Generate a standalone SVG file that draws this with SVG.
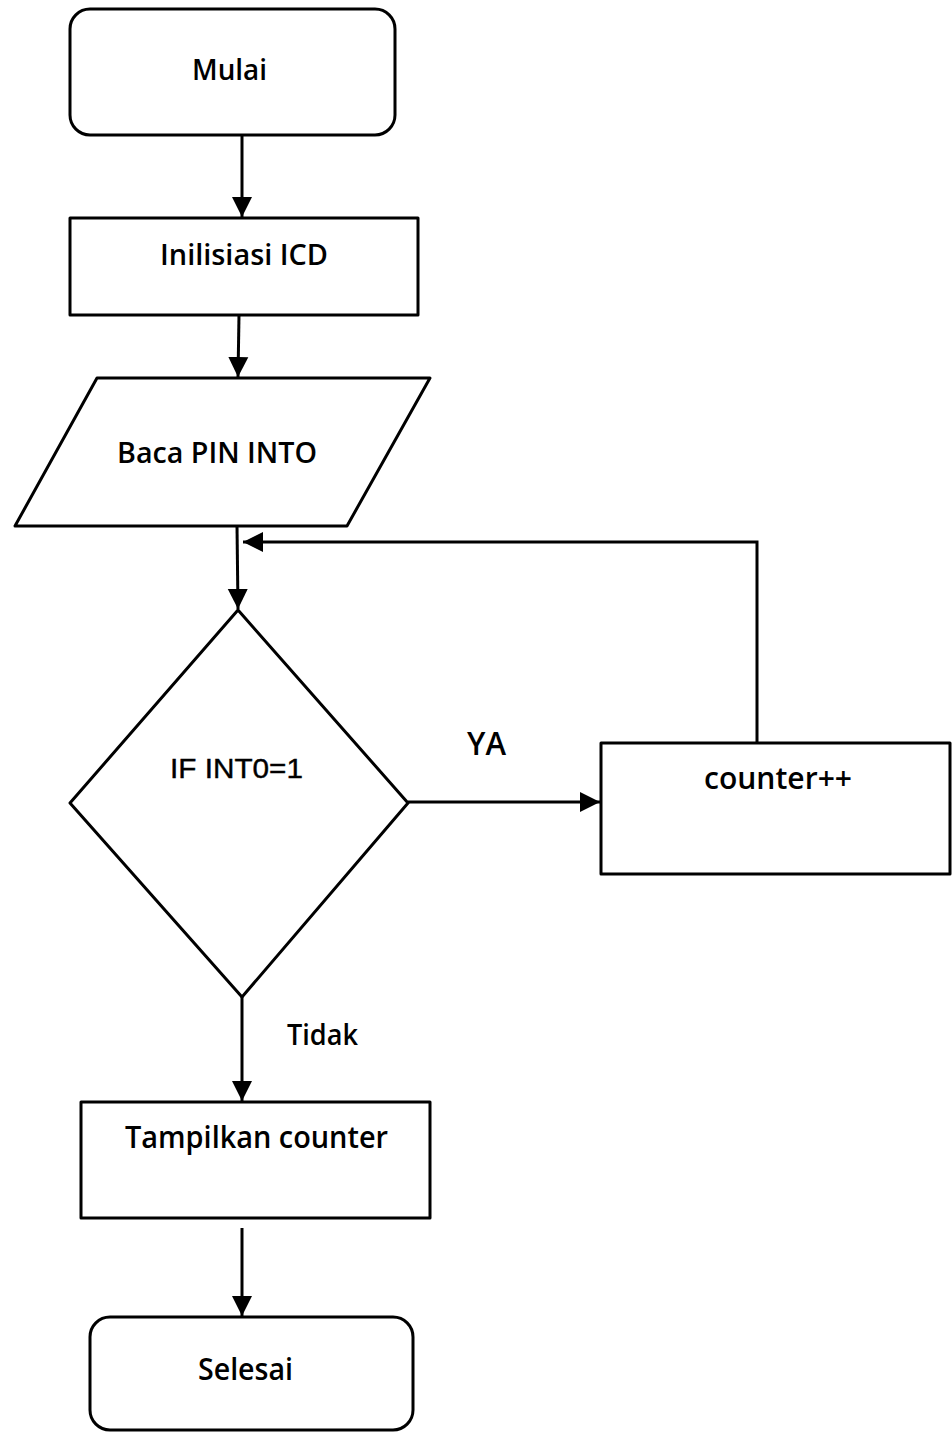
<svg xmlns="http://www.w3.org/2000/svg" width="952" height="1433" viewBox="0 0 952 1433">
<style>
.shape{fill:#fff;stroke:#000;stroke-width:3;stroke-linejoin:round}
.edge{fill:none;stroke:#000;stroke-width:3}
.lbl{font-family:"Open Sans","Liberation Sans",sans-serif;font-weight:600;fill:#000}
.cond{font-family:"Liberation Sans","DejaVu Sans",sans-serif;font-weight:400;fill:#000;stroke:#000;stroke-width:0.4}
</style>
<defs>
<marker id="arr" markerUnits="userSpaceOnUse" markerWidth="22" markerHeight="22" viewBox="0 0 22 22" refX="20" refY="11" orient="auto">
<path d="M0,1 L20,11 L0,21 Z" fill="#000"/>
</marker>
</defs>
<rect width="952" height="1433" fill="#fff"/>
<g id="connectors">
<line class="edge" x1="242" y1="135" x2="242" y2="217" marker-end="url(#arr)"/>
<line class="edge" x1="239" y1="315" x2="238" y2="377" marker-end="url(#arr)"/>
<line class="edge" x1="237" y1="526" x2="238" y2="609" marker-end="url(#arr)"/>
<polyline class="edge" points="757,743 757,542 243,542" marker-end="url(#arr)"/>
<line class="edge" x1="408" y1="802" x2="600" y2="802" marker-end="url(#arr)"/>
<line class="edge" x1="242" y1="997" x2="242" y2="1101" marker-end="url(#arr)"/>
<line class="edge" x1="242" y1="1228" x2="242" y2="1316" marker-end="url(#arr)"/>
<text class="lbl" x="467" y="755" font-size="32" textLength="39" lengthAdjust="spacingAndGlyphs">YA</text>
<text class="lbl" x="287" y="1045" font-size="29" textLength="71" lengthAdjust="spacingAndGlyphs">Tidak</text>
</g>
<g id="mulai">
<rect class="shape" x="70" y="9" width="325" height="126" rx="20"/>
<text class="lbl" x="192" y="80" font-size="28" textLength="75" lengthAdjust="spacingAndGlyphs">Mulai</text>
</g>
<g id="inisialisasi">
<rect class="shape" x="70" y="218" width="348" height="97"/>
<text class="lbl" x="160" y="265" font-size="28" textLength="168" lengthAdjust="spacingAndGlyphs">Inilisiasi ICD</text>
</g>
<g id="baca">
<polygon class="shape" points="97,378 430,378 347,526 15,526"/>
<text class="lbl" x="117" y="463" font-size="29" textLength="200" lengthAdjust="spacingAndGlyphs">Baca PIN INTO</text>
</g>
<g id="keputusan">
<polygon class="shape" points="238,610 408,803 242,997 70,803"/>
<text class="cond" x="170" y="778" font-size="27" textLength="133" lengthAdjust="spacingAndGlyphs">IF INT0=1</text>
</g>
<g id="counter">
<rect class="shape" x="601" y="743" width="349" height="131"/>
<text class="lbl" x="704" y="789" font-size="31" textLength="148" lengthAdjust="spacingAndGlyphs">counter++</text>
</g>
<g id="tampilkan">
<rect class="shape" x="81" y="1102" width="349" height="116"/>
<text class="lbl" x="125" y="1148" font-size="30" textLength="263" lengthAdjust="spacingAndGlyphs">Tampilkan counter</text>
</g>
<g id="selesai">
<rect class="shape" x="90" y="1317" width="323" height="113" rx="20"/>
<text class="lbl" x="198" y="1380" font-size="30" textLength="95" lengthAdjust="spacingAndGlyphs">Selesai</text>
</g>
</svg>
